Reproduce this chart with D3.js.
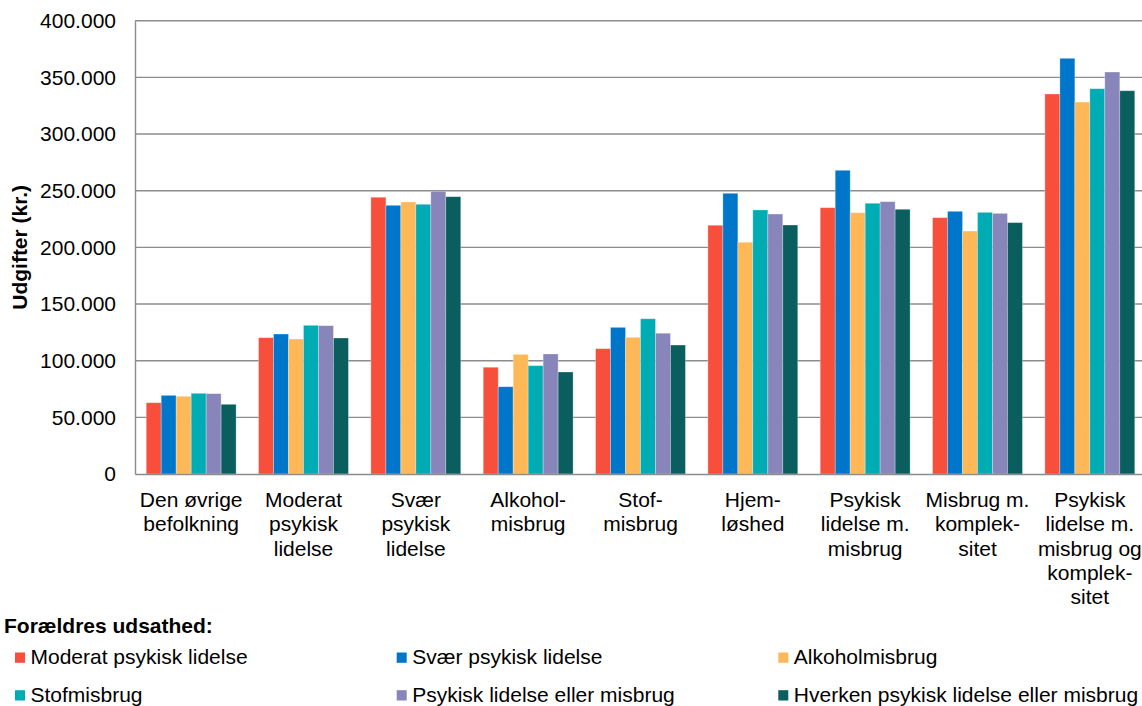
<!DOCTYPE html>
<html>
<head>
<meta charset="utf-8">
<script src="https://cdn.jsdelivr.net/npm/d3@7"></script>
<style>
  html, body { margin: 0; padding: 0; background: #fff; overflow: hidden; }
  svg { display: block; font-family: "Liberation Sans", Arial, sans-serif; }
</style>
</head>
<body>
<svg id="chart" width="1142" height="706"></svg>
<script>
// ---- Data ----
const categories = [
  ["Den øvrige", "befolkning"],
  ["Moderat", "psykisk", "lidelse"],
  ["Svær", "psykisk", "lidelse"],
  ["Alkohol-", "misbrug"],
  ["Stof-", "misbrug"],
  ["Hjem-", "løshed"],
  ["Psykisk", "lidelse m.", "misbrug"],
  ["Misbrug m.", "komplek-", "sitet"],
  ["Psykisk", "lidelse m.", "misbrug og", "komplek-", "sitet"]
];
const seriesNames = [
  "Moderat psykisk lidelse",
  "Svær psykisk lidelse",
  "Alkoholmisbrug",
  "Stofmisbrug",
  "Psykisk lidelse eller misbrug",
  "Hverken psykisk lidelse eller misbrug"
];
const seriesColors = ["#F84E3C", "#0076CB", "#FEB858", "#00ACB4", "#8885BA", "#0B5E5E"];
const moderatPsykisk = [62900, 120300, 244200, 94200, 110600, 219500, 235000, 226200, 335300];
const svaerPsykisk   = [69400, 123500, 237100, 77000, 129400, 247700, 268000, 231800, 366800];
const alkoholmisbrug = [68600, 119100, 240000, 105600, 120600, 204500, 230600, 214400, 328200];
const stofmisbrug    = [71200, 131200, 238000, 95600, 137000, 233000, 238900, 230900, 340000];
const psykEllerMisb  = [70900, 130900, 249500, 105900, 124200, 229400, 240300, 230000, 354700];
const hverken        = [61500, 120000, 244700, 90000, 113800, 219700, 233600, 221800, 338200];
const seriesValues = [moderatPsykisk, svaerPsykisk, alkoholmisbrug, stofmisbrug, psykEllerMisb, hverken];
const yTicks = [0, 50000, 100000, 150000, 200000, 250000, 300000, 350000, 400000];
const yTitle = "Udgifter (kr.)";
const legendTitle = "Forældres udsathed:";

// ---- Layout ----
const svg = d3.select("#chart");
const plot = { left: 135, right: 1146, top: 20.7, bottom: 474 };
const FONT = 21;

const x0 = d3.scaleBand()
  .domain(d3.range(categories.length))
  .range([plot.left, plot.right])
  .paddingInner(0.2)
  .paddingOuter(0.1);
const x1 = d3.scaleBand()
  .domain(d3.range(seriesNames.length))
  .range([0, x0.bandwidth()])
  .padding(0);
const y = d3.scaleLinear().domain([0, 400000]).range([plot.bottom, plot.top]);

const fmt = v => v === 0 ? "0" : d3.format(",")(v).replace(/,/g, ".");

// gridlines
svg.append("g")
  .selectAll("line")
  .data(yTicks.filter(d => d > 0))
  .join("line")
  .attr("x1", plot.left).attr("x2", plot.right)
  .attr("y1", d => y(d)).attr("y2", d => y(d))
  .attr("stroke", "#8c8c8c").attr("stroke-width", 1.4);

// bars
const groups = svg.append("g")
  .selectAll("g")
  .data(categories.map((c, i) => i))
  .join("g")
  .attr("transform", i => `translate(${x0(i)},0)`);
groups.selectAll("rect")
  .data(i => seriesValues.map((vals, s) => ({ s, v: vals[i] })))
  .join("rect")
  .attr("x", d => x1(d.s))
  .attr("width", x1.bandwidth())
  .attr("y", d => y(d.v))
  .attr("height", d => y(0) - y(d.v))
  .attr("fill", d => seriesColors[d.s])
  .attr("stroke", "#ffffff").attr("stroke-opacity", 0.35).attr("stroke-width", 0.8);

// y axis
const yAxis = d3.axisLeft(y).tickValues(yTicks).tickFormat(fmt).tickSize(0).tickPadding(19);
const gy = svg.append("g").attr("transform", `translate(${plot.left},0)`).call(yAxis);
gy.select(".domain").attr("stroke", "#8c8c8c").attr("stroke-width", 1.4);
gy.selectAll("text").attr("font-size", FONT).attr("fill", "#000")
  .attr("font-family", "'Liberation Sans', Arial, sans-serif");

// x axis (baseline line)
const xAxis = d3.axisBottom(x0).tickSize(0).tickFormat("");
const gx = svg.append("g").attr("transform", `translate(0,${plot.bottom})`).call(xAxis);
gx.select(".domain").attr("stroke", "#8c8c8c").attr("stroke-width", 1.4);

// category labels
const catLabels = svg.append("g").selectAll("text")
  .data(categories.map((c, i) => ({ c, i })))
  .join("text")
  .attr("text-anchor", "middle")
  .attr("font-size", FONT)
  .attr("fill", "#000");
catLabels.selectAll("tspan")
  .data(d => d.c.map((line, k) => ({ line, k, i: d.i })))
  .join("tspan")
  .attr("x", d => x0(d.i) + x0.bandwidth() / 2)
  .attr("y", d => 507 + d.k * 24.3)
  .text(d => d.line);

// y title
svg.append("text")
  .attr("transform", `translate(27,${(plot.top + plot.bottom) / 2}) rotate(-90)`)
  .attr("text-anchor", "middle")
  .attr("font-size", FONT)
  .attr("font-weight", "bold")
  .attr("fill", "#000")
  .text(yTitle);

// legend
const legend = svg.append("g");
legend.append("text")
  .attr("x", 4).attr("y", 632.7)
  .attr("font-size", FONT).attr("font-weight", "bold").attr("fill", "#000")
  .text(legendTitle);
const colX = [15, 396.7, 778.3];
const rowY = [664, 701.7];
const items = legend.selectAll("g.item")
  .data(seriesNames.map((n, s) => ({ n, s })))
  .join("g").attr("class", "item")
  .attr("transform", d => `translate(${colX[d.s % 3]},${rowY[Math.floor(d.s / 3)]})`);
items.append("rect")
  .attr("x", 0).attr("y", -11.5).attr("width", 10).attr("height", 10.3)
  .attr("fill", d => seriesColors[d.s]);
items.append("text")
  .attr("x", 15.5).attr("y", 0)
  .attr("font-size", FONT).attr("fill", "#000")
  .text(d => d.n);
</script>
</body>
</html>
